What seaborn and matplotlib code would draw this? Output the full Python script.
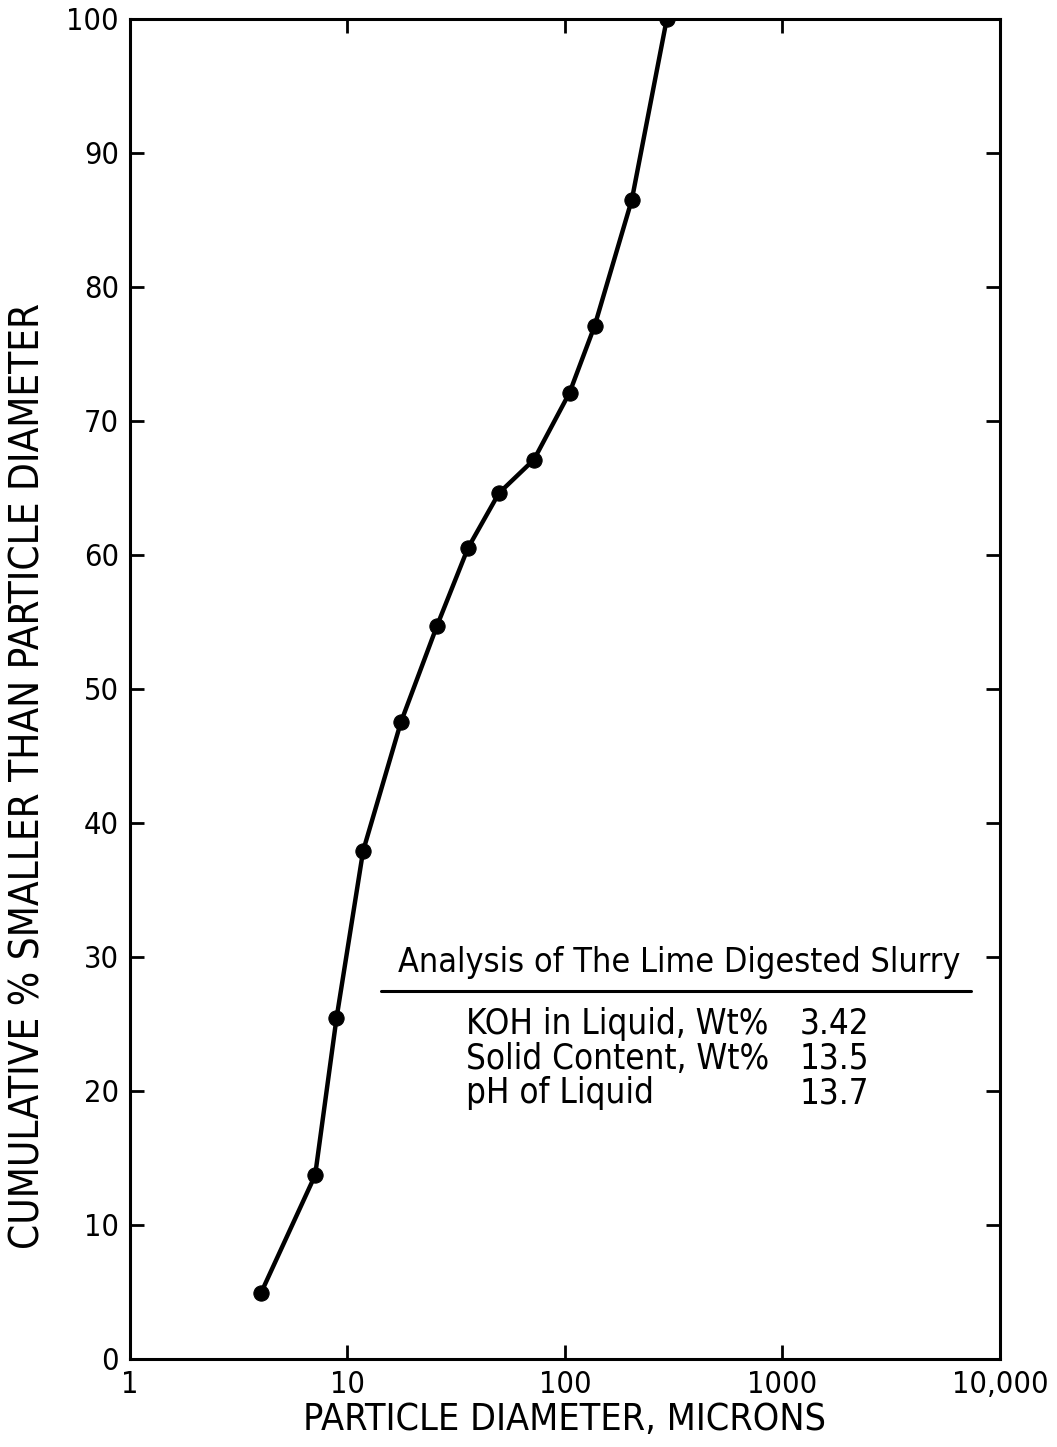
import matplotlib
matplotlib.use("Agg")
import matplotlib.pyplot as plt
import seaborn as sns
import pandas as pd

# datos (diametro en micrones, % acumulado)
diameter = [4.0, 7.1, 8.9, 11.8, 17.6, 25.8, 35.8, 49.7, 72.0, 105.0, 137.0, 203.0, 294.0]
cum_pct = [4.9, 13.7, 25.4, 37.9, 47.5, 54.7, 60.5, 64.6, 67.1, 72.1, 77.1, 86.5, 100.0]

x_ticks = [1, 10, 100, 1000, 10000]
x_tick_labels = ["1", "10", "100", "1000", "10,000"]
y_ticks = list(range(0, 101, 10))

table_title = "Analysis of The Lime Digested Slurry"
table_names = ["KOH in Liquid, Wt%", "Solid Content, Wt%", "pH of Liquid"]
table_values = ["3.42", "13.5", "13.7"]

df = pd.DataFrame({"diameter": diameter, "pct": cum_pct})

sns.set_theme(style="ticks")
plt.rcParams["font.family"] = ["DejaVu Sans"]
plt.rcParams["font.stretch"] = "condensed"
plt.rcParams["text.color"] = "black"
plt.rcParams["axes.labelcolor"] = "black"

fig = plt.figure(figsize=(10.57, 14.47), dpi=100)
ax = fig.add_axes([0.123, 0.061, 0.823, 0.926])

sns.lineplot(data=df, x="diameter", y="pct", ax=ax, color="black", linewidth=3.2,
             marker="o", markersize=11, markeredgecolor="black", sort=False)

ax.set_xscale("log")
ax.set_xlim(1, 10000)
ax.set_ylim(0, 100)
ax.set_xticks(x_ticks)
ax.set_xticklabels(x_tick_labels)
ax.xaxis.set_minor_locator(matplotlib.ticker.NullLocator())
ax.set_yticks(y_ticks)

for s in ax.spines.values():
    s.set_visible(True)
    s.set_linewidth(2.2)
    s.set_color("black")

ax.tick_params(axis="both", which="major", direction="in", length=10, width=2,
               labelsize=22, colors="black", top=True, right=True, pad=8)

ax.set_xlabel("PARTICLE DIAMETER, MICRONS", fontsize=27, labelpad=2)
ax.set_ylabel("CUMULATIVE % SMALLER THAN PARTICLE DIAMETER", fontsize=29)
ax.yaxis.set_label_coords(-0.094, 0.435)

# tabla de analisis
ax.text(0.631, 0.2955, table_title, transform=ax.transAxes, ha="center", va="center",
        fontsize=24.5)
ax.plot([0.288, 0.967], [0.2746, 0.2746], transform=ax.transAxes, color="black",
        linewidth=2.2)
for i, (name, val) in enumerate(zip(table_names, table_values)):
    yy = 0.25 - i * 0.026
    ax.text(0.386, yy, name, transform=ax.transAxes, ha="left", va="center", fontsize=25)
    ax.text(0.77, yy, val, transform=ax.transAxes, ha="left", va="center", fontsize=25)

fig.savefig("out.png", dpi=100)
